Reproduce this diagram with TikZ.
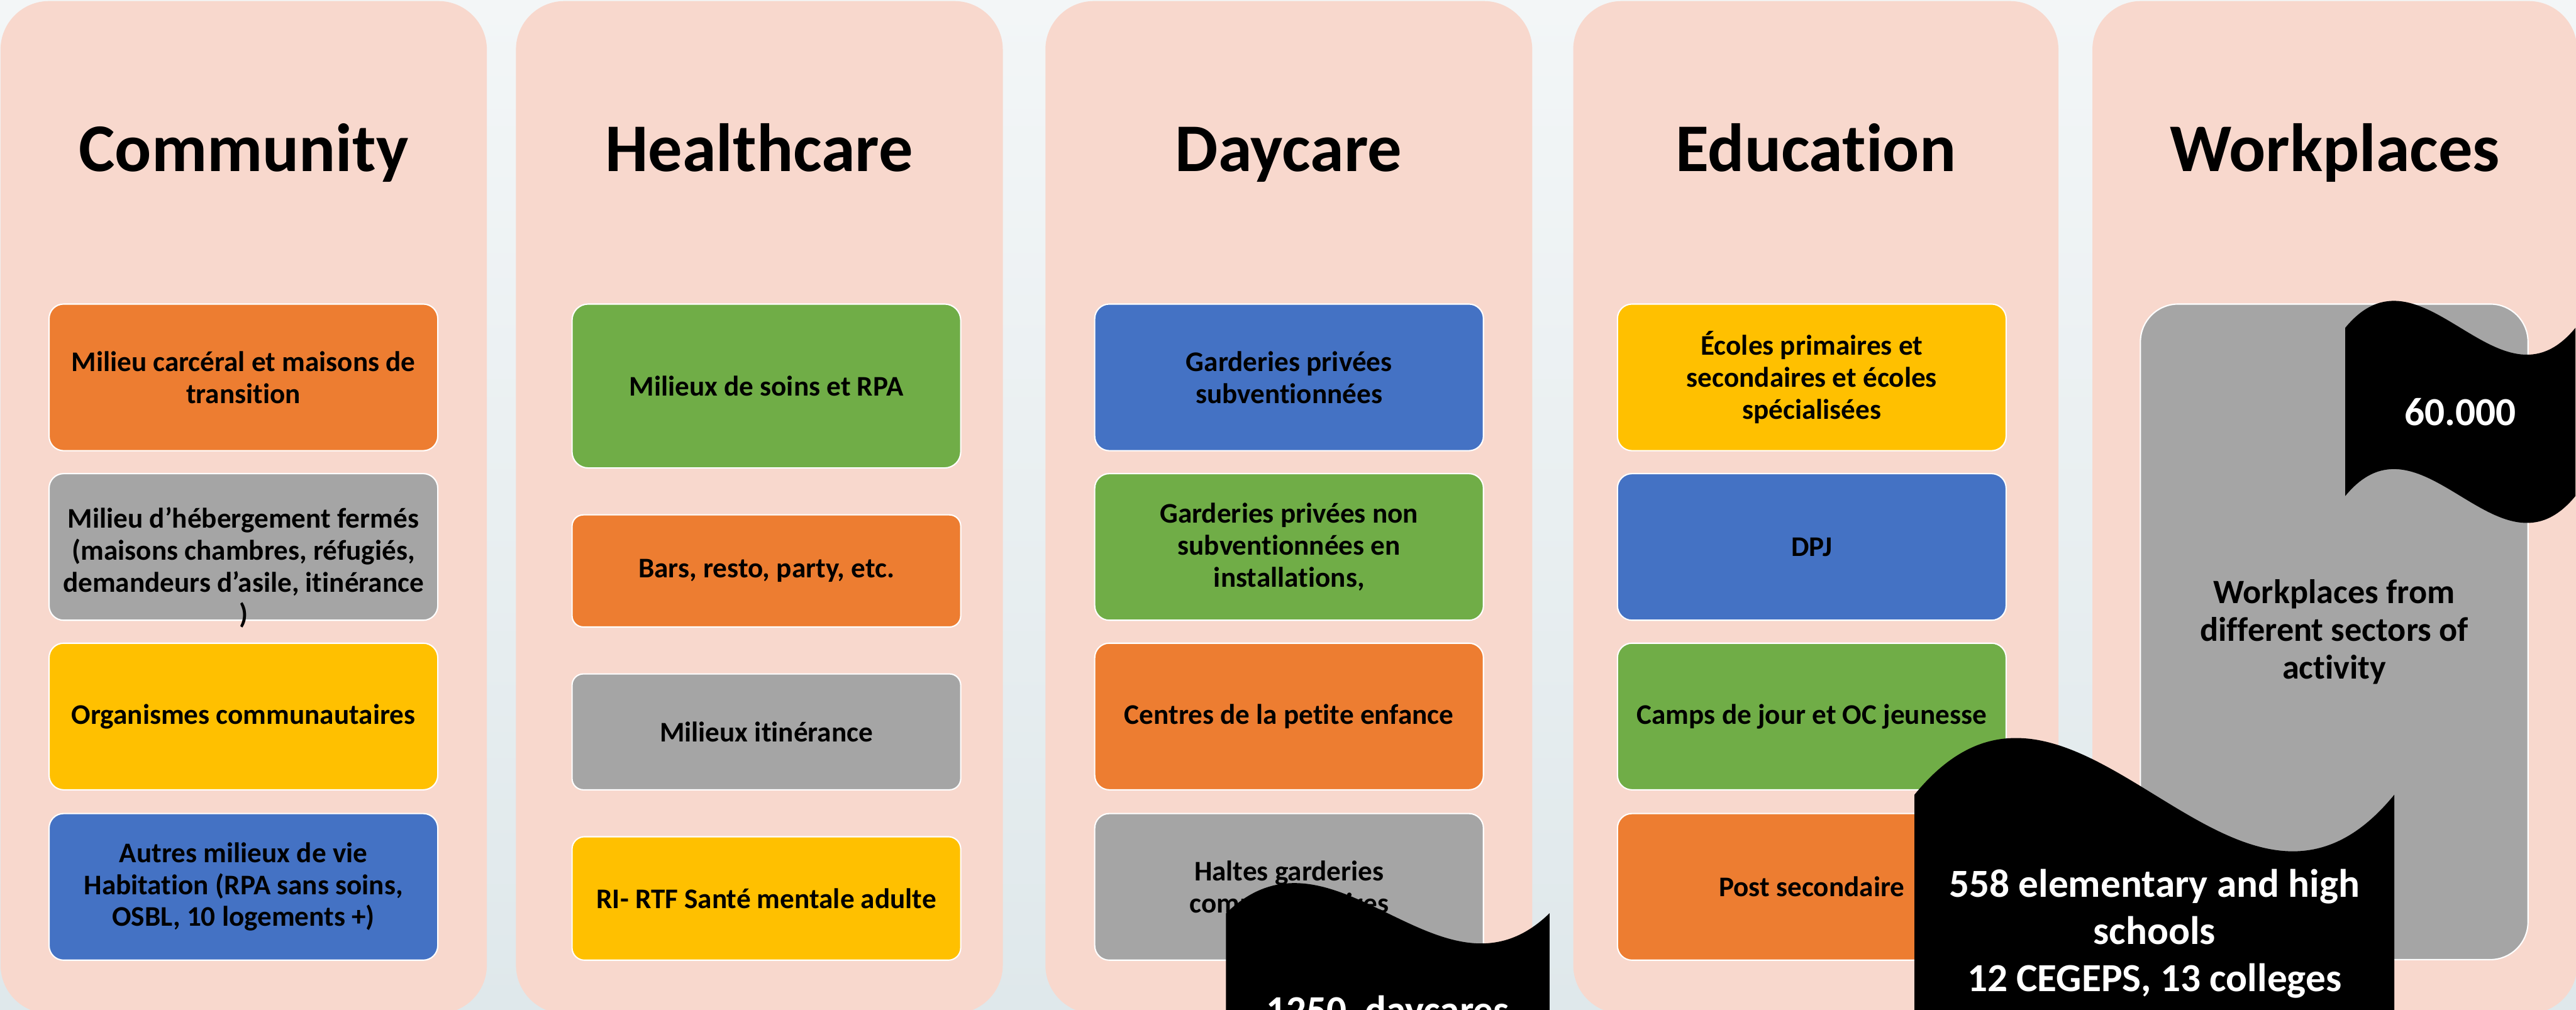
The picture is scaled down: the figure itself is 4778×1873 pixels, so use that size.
\documentclass[tikz,border=0pt]{standalone}
\usepackage{fontspec}
\setmainfont{Carlito}[Ligatures=CommonOff]

\definecolor{panelpink}{HTML}{F8D8CD}
\definecolor{accorange}{HTML}{ED7D31}
\definecolor{accgreen}{HTML}{70AD47}
\definecolor{accblue}{HTML}{4472C4}
\definecolor{accgrey}{HTML}{A5A5A5}
\definecolor{accgold}{HTML}{FFC000}
\definecolor{bgtop}{HTML}{F3F6F7}
\definecolor{bgbottom}{HTML}{DFE8EB}

\begin{document}
\begin{tikzpicture}[x=0.1mm, y=-0.1mm,
  every node/.style={inner sep=0pt, align=center, font=\bfseries},
  coltitle/.style={anchor=base, font=\fontsize{36}{40}\selectfont\bfseries},
  colbox/.style={draw=white, line width=0.7pt, rounded corners=2.7mm,
    minimum width=72.1mm, minimum height=27.2mm,
    font=\fontsize{15}{16.8}\selectfont\bfseries},
  boxtext/.style={font=\fontsize{15}{16.8}\selectfont\bfseries},
  wavetext/.style={text=white, font=\fontsize{21}{25}\selectfont\bfseries}]

  % Background and page frame
  \useasboundingbox (0,0) rectangle (4778,1873);
  \shade[top color=bgtop, bottom color=bgbottom] (0,0) rectangle (4778,1873);
  \clip (0,0) rectangle (4778,1873);

  % Draw the five pink columns
  \foreach \l/\r in {1/903, 957/1860, 1939/2842, 2918/3818, 3881/4780}
    \fill[panelpink, rounded corners=9mm] (\l,2) rectangle (\r,1880);

  % Column titles
  \node[coltitle] (community) at (452,318) {Community};
  \node[coltitle] (healthcare) at (1408,318) {Healthcare};
  \node[coltitle] (daycare) at (2390,318) {Daycare};
  \node[coltitle] (education) at (3368,318) {Education};
  \node[coltitle] (workplaces) at (4331,318) {Workplaces};

  % Community boxes
  \node[colbox, fill=accorange] (carceral) at (451.5,700) {Milieu carcéral et maisons de\\transition};
  \node[colbox, fill=accgrey] (hebergement) at (451.5,1014.5) {};
  \node[boxtext] (hebergementtxt) at (451.5,1053) {Milieu d’hébergement fermés\\(maisons chambres, réfugiés,\\demandeurs d’asile, itinérance\\)};
  \node[colbox, fill=accgold] (organismes) at (451.5,1329) {Organismes communautaires};
  \node[colbox, fill=accblue] (habitation) at (451.5,1645) {Autres milieux de vie\\Habitation (RPA sans soins,\\OSBL, 10 logements +)};

  % Healthcare boxes
  \node[colbox, fill=accgreen, minimum height=30.4mm, rounded corners=3mm] (soins) at (1421.5,716) {Milieux de soins et RPA};
  \node[colbox, fill=accorange, minimum height=20.8mm, rounded corners=2.1mm] (bars) at (1421.5,1059) {Bars, resto, party, etc.};
  \node[colbox, fill=accgrey, minimum height=21.5mm, rounded corners=2.1mm] (itinerance) at (1421.5,1357.5) {Milieux itinérance};
  \node[colbox, fill=accgold, minimum height=22.9mm, rounded corners=2.3mm] (rirtf) at (1421.5,1666.5) {RI- RTF Santé mentale adulte};

  % Daycare boxes
  \node[colbox, fill=accblue] (subv) at (2391,700) {Garderies privées\\subventionnées};
  \node[colbox, fill=accgreen] (nonsubv) at (2391,1014.5) {Garderies privées non\\subventionnées en\\installations,};
  \node[colbox, fill=accorange] (cpe) at (2391,1329) {Centres de la petite enfance};
  \node[colbox, fill=accgrey] (haltes) at (2391,1645) {Haltes garderies\\communautaires};

  % Education boxes
  \node[colbox, fill=accgold] (ecoles) at (3360.5,700) {Écoles primaires et\\secondaires et écoles\\spécialisées};
  \node[colbox, fill=accblue] (dpj) at (3360.5,1014.5) {DPJ};
  \node[colbox, fill=accgreen] (camps) at (3360.5,1329) {Camps de jour et OC jeunesse};
  \node[colbox, fill=accorange] (postsec) at (3360.5,1645) {Post secondaire};

  % Workplaces box
  \node[colbox, fill=accgrey, minimum width=71.9mm, minimum height=121.6mm, rounded corners=7mm,
    font=\fontsize{18}{19.8}\selectfont\bfseries] (sectors) at (4329.5,1172) {Workplaces from\\different sectors of\\activity};

  % Black wave banners with the counts
  \fill (2274,1694) .. controls (2474,1500) and (2674,1888) .. (2874,1694) -- (2874,1900) -- (2274,1900) -- cycle;
  \node[wavetext, anchor=base] (daycares) at (2574,1899) {1250~ daycares};

  \fill (3551,1474) .. controls (3848,1110) and (4144,1838) .. (4441,1474) -- (4441,1900) -- (3551,1900) -- cycle;
  \node[wavetext] (schools) at (3996,1732) {558 elementary and high\\schools\\12 CEGEPS, 13 colleges};

  \fill (4350,608) .. controls (4492,435) and (4635,781) .. (4777,608) -- (4777,920)
    .. controls (4635,1093) and (4492,747) .. (4350,920) -- cycle;
  \node[wavetext] (jobs) at (4563,764) {60.000};

\end{tikzpicture}
\end{document}
